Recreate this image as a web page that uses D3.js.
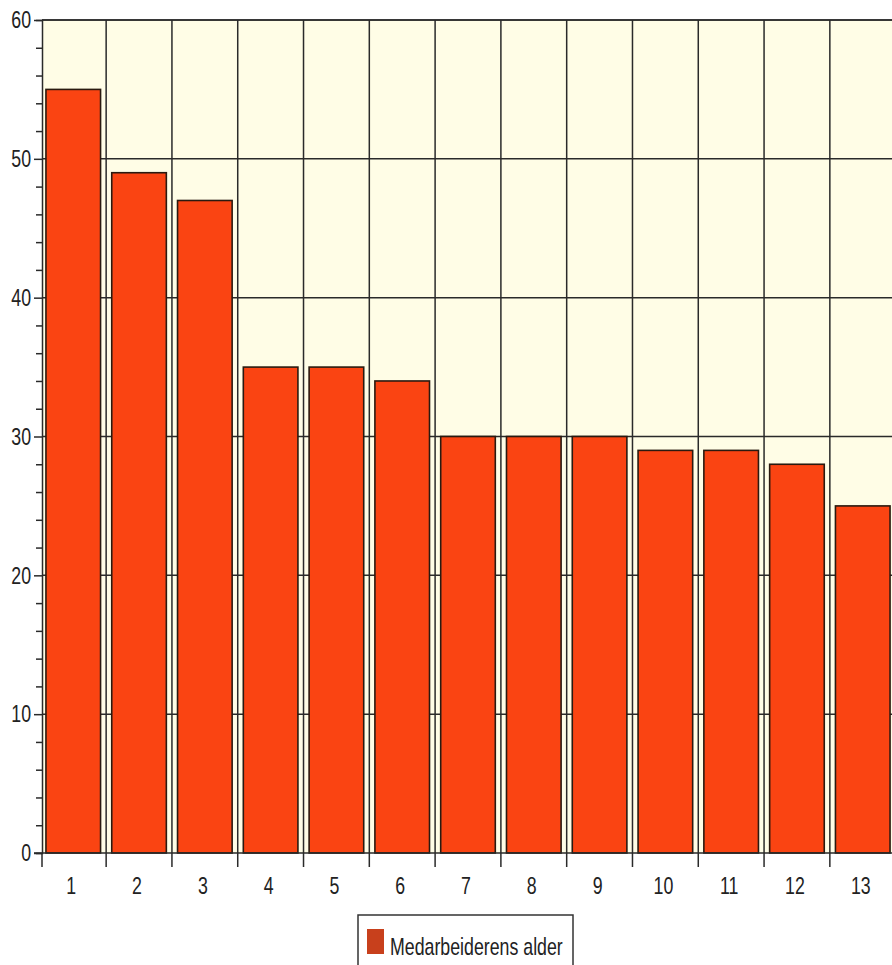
<!doctype html>
<html>
  <head>
    <meta charset="utf-8">
    <title>Medarbeiderens alder</title>
    <script src="https://cdnjs.cloudflare.com/ajax/libs/d3/7.8.5/d3.min.js"></script>
    <style>
      body { margin: 0; background: #fff; }
      text { font-family: "Liberation Sans", Arial, sans-serif; fill: #222; }
    </style>
  </head>
  <body>
    <div id="chart"></div>
    <script>
      // data
      const categories = ["1", "2", "3", "4", "5", "6", "7", "8", "9", "10", "11", "12", "13"];
      const ages = [55, 49, 47, 35, 35, 34, 30, 30, 30, 29, 29, 28, 25];
      const yTicks = [0, 10, 20, 30, 40, 50, 60];
      const seriesName = "Medarbeiderens alder";

      const W = 892, H = 965;
      const mLeft = 42, mRight = 894, mTop = 20, mBottom = 853;
      const narrow = 0.74; // squeeze text to look like a narrow face
      const fs = "24px";

      const svg = d3.select("#chart").append("svg")
        .attr("width", W).attr("height", H);

      const x = d3.scaleBand().domain(categories).range([mLeft, mRight])
        .paddingInner(0.17).paddingOuter(0.06);
      const y = d3.scaleLinear().domain([0, 60]).range([mBottom, mTop]);

      // plot background
      svg.append("rect")
        .attr("x", mLeft).attr("y", mTop)
        .attr("width", mRight - mLeft).attr("height", mBottom - mTop)
        .attr("fill", "#fffde6");

      // horizontal grid
      svg.append("g").selectAll("line")
        .data(yTicks.filter(d => d > 0))
        .join("line")
        .attr("x1", mLeft).attr("x2", mRight)
        .attr("y1", d => y(d)).attr("y2", d => y(d))
        .attr("stroke", "#2a2a2a").attr("stroke-width", 1.5);

      // vertical grid at category boundaries
      const step = x.step();
      const boundaryX = categories.map(c => x(c) + x.bandwidth() + (step - x.bandwidth()) / 2);
      svg.append("g").selectAll("line")
        .data(boundaryX)
        .join("line")
        .attr("x1", d => d).attr("x2", d => d)
        .attr("y1", mTop).attr("y2", mBottom + 14)
        .attr("stroke", "#2a2a2a").attr("stroke-width", 1.5);

      // bars
      svg.append("g").selectAll("rect")
        .data(ages)
        .join("rect")
        .attr("x", (d, i) => x(categories[i]))
        .attr("y", d => y(d))
        .attr("width", x.bandwidth())
        .attr("height", d => y(0) - y(d))
        .attr("fill", "#fa4412")
        .attr("stroke", "#2a1a10")
        .attr("stroke-width", 1.6);

      // y axis
      const yAxis = d3.axisLeft(y)
        .tickValues(d3.range(0, 61, 2))
        .tickSize(6)
        .tickFormat(d => yTicks.includes(d) ? d : "");
      const gy = svg.append("g")
        .attr("transform", `translate(${mLeft},0)`)
        .call(yAxis);
      gy.select(".domain").attr("stroke", "#2a2a2a").attr("stroke-width", 1.5);
      gy.selectAll(".tick line")
        .attr("stroke", "#2a2a2a").attr("stroke-width", 1.5)
        .attr("x2", d => yTicks.includes(d) ? -8 : -6);
      gy.selectAll(".tick text")
        .attr("x", -11 / narrow)
        .attr("transform", `scale(${narrow},1)`)
        .style("font-size", fs);

      // x axis line
      svg.append("line")
        .attr("x1", mLeft - 8).attr("x2", mRight)
        .attr("y1", mBottom).attr("y2", mBottom)
        .attr("stroke", "#2a2a2a").attr("stroke-width", 1.5);
      svg.append("line")
        .attr("x1", mLeft).attr("x2", mLeft)
        .attr("y1", mBottom).attr("y2", mBottom + 14)
        .attr("stroke", "#2a2a2a").attr("stroke-width", 1.5);

      // x labels
      svg.append("g").selectAll("text")
        .data(categories)
        .join("text")
        .attr("transform", d => `translate(${x(d) + x.bandwidth() / 2 - 2},${mBottom + 41}) scale(${narrow},1)`)
        .attr("text-anchor", "middle")
        .style("font-size", fs)
        .text(d => d);

      // top line
      svg.append("line")
        .attr("x1", mLeft).attr("x2", mRight)
        .attr("y1", mTop).attr("y2", mTop)
        .attr("stroke", "#2a2a2a").attr("stroke-width", 1.5);

      // legend
      const lg = svg.append("g").attr("transform", "translate(358,915)");
      lg.append("rect")
        .attr("x", 0).attr("y", 0).attr("width", 215).attr("height", 60)
        .attr("fill", "#fff").attr("stroke", "#333").attr("stroke-width", 1.5);
      lg.append("rect")
        .attr("x", 9).attr("y", 14).attr("width", 17).attr("height", 25)
        .attr("fill", "#c8401c");
      lg.append("text")
        .attr("transform", `translate(32,40) scale(${narrow},1)`)
        .style("font-size", fs)
        .text(seriesName);
    </script>
  </body>
</html>
